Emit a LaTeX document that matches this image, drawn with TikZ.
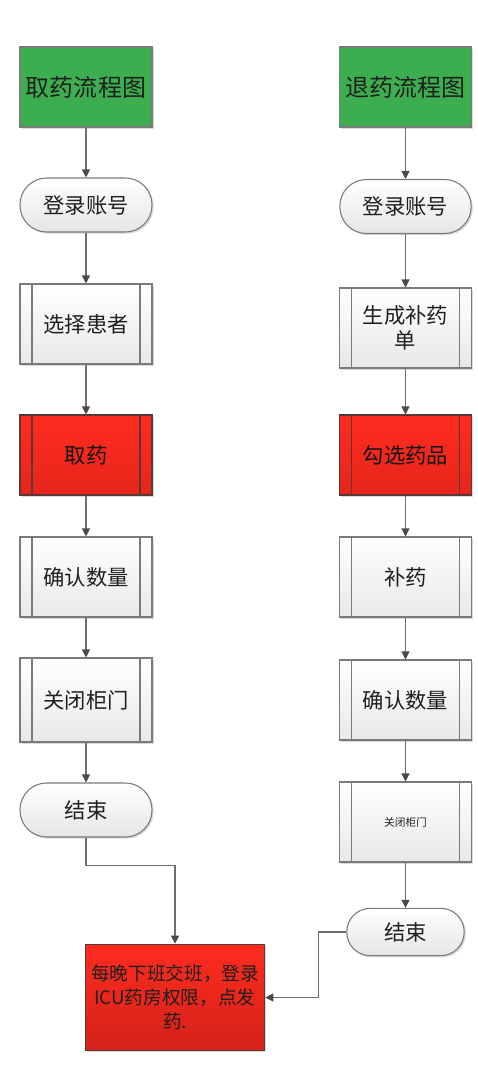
\documentclass[tikz,border=0pt]{standalone}
\usepackage{fontspec}
\newfontfamily\cjk{Noto Sans CJK SC}
\usetikzlibrary{arrows.meta,shadows}
\definecolor{flowgreen}{HTML}{3DAE4F}
\definecolor{redtop}{HTML}{FF2C20}
\definecolor{redbot}{HTML}{E6251B}
\definecolor{linegray}{HTML}{6E6E6E}
\definecolor{tipgray}{HTML}{4A4A4A}
\definecolor{bordergray}{HTML}{7A7A7A}
\definecolor{redborder}{HTML}{5A3838}
\tikzset{
  shad/.style={drop shadow={shadow xshift=1.2pt,shadow yshift=-1.2pt,opacity=0.25,fill=black!60}},
  base/.style={draw=bordergray,line width=0.8pt,font=\cjk,text=black!88,align=center,shad},
  titlebox/.style={base,rectangle,fill=flowgreen,minimum width=99pt,minimum height=60pt,
    font=\cjk\fontsize{18}{22}\selectfont},
  term/.style={base,rectangle,rounded corners=20pt,minimum width=99pt,minimum height=40.5pt,
    top color=white,bottom color=black!10,font=\cjk\fontsize{16}{19}\selectfont},
  innerlines/.style={path picture={\draw[#1,line width=0.9pt]
      ([xshift=9pt]path picture bounding box.north west) -- ([xshift=9pt]path picture bounding box.south west)
      ([xshift=-9pt]path picture bounding box.north east) -- ([xshift=-9pt]path picture bounding box.south east);}},
  proc/.style={base,rectangle,minimum width=99pt,minimum height=60pt,
    top color=white,bottom color=black!9,font=\cjk\fontsize{16}{19}\selectfont,innerlines=bordergray},
  redproc/.style={base,rectangle,minimum width=99pt,minimum height=60pt,font=\cjk\fontsize{16}{19}\selectfont,
    top color=redtop,bottom color=redbot,draw=redborder,text=black!92,innerlines=redborder},
  arr/.style={draw=linegray,line width=0.8pt,-{Triangle[length=6pt,width=6pt,fill=tipgray,color=tipgray]}}
}
\begin{document}
\begin{tikzpicture}[x=0.75pt,y=-0.75pt]
\useasboundingbox[fill=white] (0,0) rectangle (478,1074);
% left column
\node[titlebox] (L1) at (86,87) {取药流程图};
\node[term] (L2) at (86,205) {登录账号};
\node[proc] (L3) at (86,324) {选择患者};
\node[redproc] (L4) at (86,455) {取药};
\node[proc] (L5) at (86,577) {确认数量};
\node[proc,minimum height=63pt] (L6) at (86,700) {关闭柜门};
\node[term] (L7) at (86,810) {结束};
% right column
\node[titlebox,minimum width=98.5pt] (R1) at (405.5,87) {退药流程图};
\node[term,minimum width=98.5pt] (R2) at (405.5,206.5) {登录账号};
\node[proc,minimum width=98.5pt,text width=70pt] (R3) at (405.5,328) {生成补药\\单};
\node[redproc,minimum width=98.5pt] (R4) at (405.5,455) {勾选药品};
\node[proc,minimum width=98.5pt] (R5) at (405.5,577) {补药};
\node[proc,minimum width=98.5pt] (R6) at (405.5,700) {确认数量};
\node[proc,minimum width=98.5pt,font=\cjk\fontsize{8}{10}\selectfont] (R7) at (405.5,822) {关闭柜门};
\node[term,minimum width=88pt,minimum height=35.5pt,rounded corners=17.5pt] (R8) at (405.5,932) {结束};
% final box
\node[base,rectangle,top color=redtop,bottom color=redbot!92!black,draw=redborder,
  minimum width=133.5pt,minimum height=80pt,text width=128pt,
  font=\cjk\fontsize{14}{18}\selectfont] (F) at (175,997.5)
  {每晚下班交班，登录\\ICU药房权限，点发\\药.};
% connectors
\draw[arr] (L1) -- (L2);
\draw[arr] (L2) -- (L3);
\draw[arr] (L3) -- (L4);
\draw[arr] (L4) -- (L5);
\draw[arr] (L5) -- (L6);
\draw[arr] (L6) -- (L7);
\draw[arr] (R1) -- (R2);
\draw[arr] (R2) -- (R3);
\draw[arr] (R3) -- (R4);
\draw[arr] (R4) -- (R5);
\draw[arr] (R5) -- (R6);
\draw[arr] (R6) -- (R7);
\draw[arr] (R7) -- (R8);
\draw[arr] (L7.south) -- ++(0,28) -| (F.north);
\draw[arr] (R8.west) -- ++(-28,0) |- (F.east);
\end{tikzpicture}
\end{document}
